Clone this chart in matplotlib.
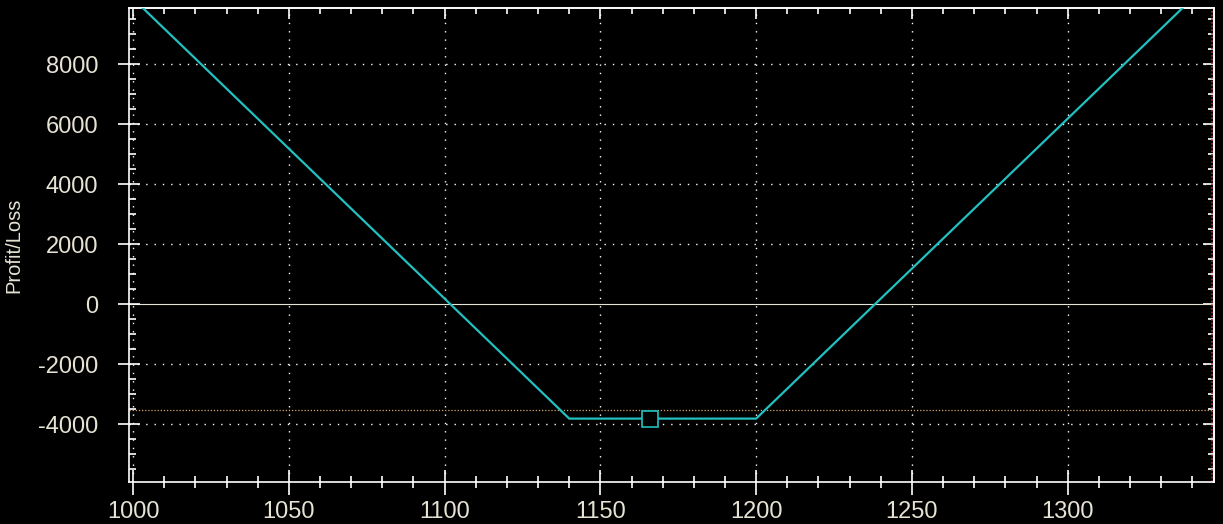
import numpy as np
import matplotlib.pyplot as plt
from matplotlib.ticker import MultipleLocator

# Strategy payoff (long strangle)
price = [998.7, 1140, 1200, 1346.8]
pnl = [-3820 + 100 * (1140 - 998.7), -3820, -3820, -3820 + 100 * (1346.8 - 1200)]
current_price = 1165.8
current_pnl = -3820
ref_level = -3545

x_ticks = [1000, 1050, 1100, 1150, 1200, 1250, 1300]
y_ticks = [-4000, -2000, 0, 2000, 4000, 6000, 8000]

fg = "#e6e2d4"
line_c = "#22c0c0"

plt.rcParams["font.family"] = ["Liberation Sans", "DejaVu Sans"]
plt.rcParams["axes.unicode_minus"] = False

fig = plt.figure(figsize=(12.23, 5.24), dpi=100, facecolor="black")
ax = fig.add_axes([129 / 1223, 1 - 482 / 524, (1213.5 - 129) / 1223, (482 - 8) / 524])
ax.set_facecolor("black")

ax.set_xlim(998.7, 1346.8)
ax.set_ylim(-5933, 9867)

# grid and reference lines
for xv in x_ticks:
    ax.axvline(xv, color="white", lw=1, ls=(0, (1, 5)), zorder=1)
for yv in y_ticks:
    if yv == 0:
        ax.axhline(0, color=fg, lw=0.8, zorder=1)
    else:
        ax.axhline(yv, color="white", lw=1, ls=(0, (1, 5)), zorder=1)
ax.axhline(ref_level, color="#d8a860", lw=0.9, ls=(0, (1, 1.5)), zorder=1)
ax.axvline(1346.2, color="#a02828", lw=1.2, ls=(0, (1, 1.2)), zorder=1)

ax.plot(price, pnl, color=line_c, lw=1.6, zorder=3)
ax.plot([current_price], [current_pnl], marker="s", ms=11, mfc="black",
        mec=line_c, mew=1.2, zorder=4)

for s in ax.spines.values():
    s.set_color("white")
    s.set_linewidth(1.2)

ax.set_xticks(x_ticks)
ax.set_yticks(y_ticks)
ax.xaxis.set_minor_locator(MultipleLocator(10))
ax.yaxis.set_minor_locator(MultipleLocator(500))
ax.tick_params(axis="both", which="major", colors="white", labelcolor=fg,
               labelsize=17, width=1.2)
ax.tick_params(axis="x", which="major", direction="inout", length=18, pad=5)
ax.tick_params(axis="y", which="major", direction="inout", length=16, pad=14)
ax.tick_params(axis="both", which="minor", colors="white", width=1.2)
ax.tick_params(axis="x", which="minor", direction="inout", length=8)
ax.tick_params(axis="y", which="minor", direction="in", length=5)

# inward ticks on top and right edges
top = ax.secondary_xaxis("top")
top.set_xticks(x_ticks)
top.xaxis.set_minor_locator(MultipleLocator(10))
top.tick_params(which="major", direction="in", length=8, width=1.2,
                colors="white", labeltop=False)
top.tick_params(which="minor", direction="in", length=4, width=1.2,
                colors="white")
right = ax.secondary_yaxis("right")
right.set_yticks(y_ticks)
right.yaxis.set_minor_locator(MultipleLocator(500))
right.tick_params(which="major", direction="in", length=8, width=1.2,
                  colors="white", labelright=False)
right.tick_params(which="minor", direction="in", length=4, width=1.2,
                  colors="white")
for sec in (top, right):
    for s in sec.spines.values():
        s.set_color("white")
        s.set_linewidth(1.2)

ax.set_ylabel("Profit/Loss", color=fg, fontsize=14.5, labelpad=11)

fig.savefig("out.png", dpi=100, facecolor="black")
